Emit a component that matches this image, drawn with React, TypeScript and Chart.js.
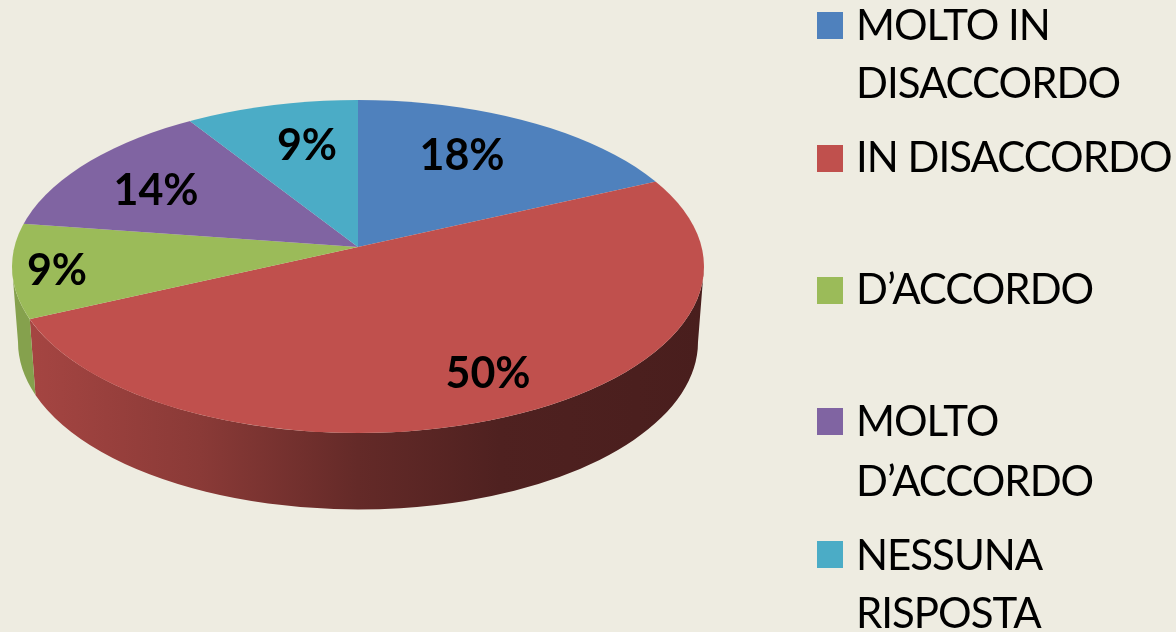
import React, { useEffect, useRef } from "react";
import { Chart, registerables } from "chart.js";

Chart.register(...registerables);

const categories = ["MOLTO IN DISACCORDO", "IN DISACCORDO", "D’ACCORDO", "MOLTO D’ACCORDO", "NESSUNA RISPOSTA"];
const legendLines = [["MOLTO IN", "DISACCORDO"], ["IN DISACCORDO"], ["D’ACCORDO"], ["MOLTO", "D’ACCORDO"], ["NESSUNA", "RISPOSTA"]];
const answerCounts = [4, 11, 2, 3, 2];
const sliceColors = ["#4F81BD", "#C0504D", "#9BBB59", "#8064A2", "#4BACC6"];

const WIDTH = 1176;
const HEIGHT = 632;
const BG = "#EEECE1";
const top3d = { cx: 358, cy: 266.5, rx: 346, ry: 166.5 };
const bottom3d = { cx: 358, cy: 342, rx: 340, ry: 167.5 };
const apexY = 247;
const labelCentres = [[462, 156], [488, 374], [57, 271], [156, 191], [307, 146]];
const legendSwatchY = [12, 145, 277, 408, 541];
const legendBaselines = [[40, 98], [172], [304], [436, 496], [570, 628]];
const labelFont = "bold 43px Lato";
const legendFont = "42px Lato";
const legendSpacing = "-1px";
const shadeStops = [[30, 0.86], [200, 0.72], [358, 0.52], [500, 0.41], [704, 0.38]];

const unitApexY = (apexY - top3d.cy) / top3d.ry;
const totalAnswers = answerCounts.reduce((a, b) => a + b, 0);

function rimAngle(a: number) {
  const dx = Math.cos(a);
  const dy = Math.sin(a);
  const dot = unitApexY * dy;
  const t = -dot + Math.sqrt(dot * dot + 1 - unitApexY * unitApexY);
  const phi = Math.atan2(unitApexY + t * dy, t * dx);
  return phi + 2 * Math.PI * Math.round((a - phi) / (2 * Math.PI));
}

function shade(hex: string, f: number) {
  const n = parseInt(hex.slice(1), 16);
  const c = [(n >> 16) & 255, (n >> 8) & 255, n & 255].map((v) => Math.round(v * f));
  return `rgb(${c[0]},${c[1]},${c[2]})`;
}

const pie3dPlugin = {
  id: "pie3d",
  beforeDraw(chart: any) {
    const { ctx } = chart;
    ctx.save();
    ctx.fillStyle = BG;
    ctx.fillRect(0, 0, WIDTH, HEIGHT);
    ctx.restore();
  },
  beforeDatasetsDraw(chart: any) {
    const { ctx } = chart;
    const arcs = chart.getDatasetMeta(0).data;
    // Side wall of every slice that faces the viewer
    arcs.forEach((arc: any, i: number) => {
      const s = rimAngle(arc.startAngle);
      const e = rimAngle(arc.endAngle);
      for (let k = -1; k <= 1; k++) {
        const lo = Math.max(s + 2 * Math.PI * k, 0);
        const hi = Math.min(e + 2 * Math.PI * k, Math.PI);
        if (lo >= hi) continue;
        const g = ctx.createLinearGradient(shadeStops[0][0], 0, shadeStops[shadeStops.length - 1][0], 0);
        const span = shadeStops[shadeStops.length - 1][0] - shadeStops[0][0];
        shadeStops.forEach(([x, f]) => g.addColorStop((x - shadeStops[0][0]) / span, shade(sliceColors[i], f)));
        ctx.beginPath();
        ctx.ellipse(top3d.cx, top3d.cy, top3d.rx, top3d.ry, 0, lo, hi, false);
        ctx.ellipse(bottom3d.cx, bottom3d.cy, bottom3d.rx, bottom3d.ry, 0, hi, lo, true);
        ctx.closePath();
        ctx.fillStyle = g;
        ctx.fill();
      }
    });
    // Library-drawn wedges are projected on to the tilted disc
    const arc = arcs[0];
    const k = 1.35;
    ctx.save();
    ctx.beginPath();
    ctx.ellipse(top3d.cx, top3d.cy, top3d.rx, top3d.ry, 0, 0, Math.PI * 2);
    ctx.clip();
    ctx.translate(top3d.cx, apexY);
    ctx.scale((top3d.rx * k) / arc.outerRadius, (top3d.ry * k) / arc.outerRadius);
    ctx.translate(-arc.x, -arc.y);
  },
  afterDatasetsDraw(chart: any) {
    const { ctx } = chart;
    ctx.restore();
    ctx.save();
    ctx.fillStyle = "#000000";
    ctx.textAlign = "center";
    ctx.textBaseline = "middle";
    ctx.font = labelFont;
    answerCounts.forEach((n, i) => {
      ctx.fillText(`${Math.round((n / totalAnswers) * 100)}%`, labelCentres[i][0], labelCentres[i][1]);
    });
    ctx.textAlign = "left";
    ctx.textBaseline = "alphabetic";
    ctx.font = legendFont;
    ctx.letterSpacing = legendSpacing;
    categories.forEach((_, i) => {
      ctx.fillStyle = sliceColors[i];
      ctx.fillRect(817, legendSwatchY[i], 26, 27);
      ctx.fillStyle = "#000000";
      legendLines[i].forEach((line, j) => ctx.fillText(line, 856, legendBaselines[i][j]));
    });
    ctx.restore();
  },
};

export default function App() {
  const ref = useRef<HTMLCanvasElement>(null);
  useEffect(() => {
    const chart = new Chart(ref.current as HTMLCanvasElement, {
      type: "pie",
      data: {
        labels: categories,
        datasets: [
          {
            data: answerCounts,
            backgroundColor: sliceColors,
            borderWidth: 0,
            clip: false,
          } as any,
        ],
      },
      options: {
        responsive: false,
        animation: false,
        layout: { padding: 0 },
        plugins: { legend: { display: false }, tooltip: { enabled: false } },
      },
      plugins: [pie3dPlugin],
    });
    return () => chart.destroy();
  }, []);
  return (
    <div style={{ position: "fixed", left: 0, top: 0, width: WIDTH, height: HEIGHT, background: BG, overflow: "hidden" }}>
      <canvas ref={ref} width={WIDTH} height={HEIGHT} style={{ display: "block" }} />
    </div>
  );
}
